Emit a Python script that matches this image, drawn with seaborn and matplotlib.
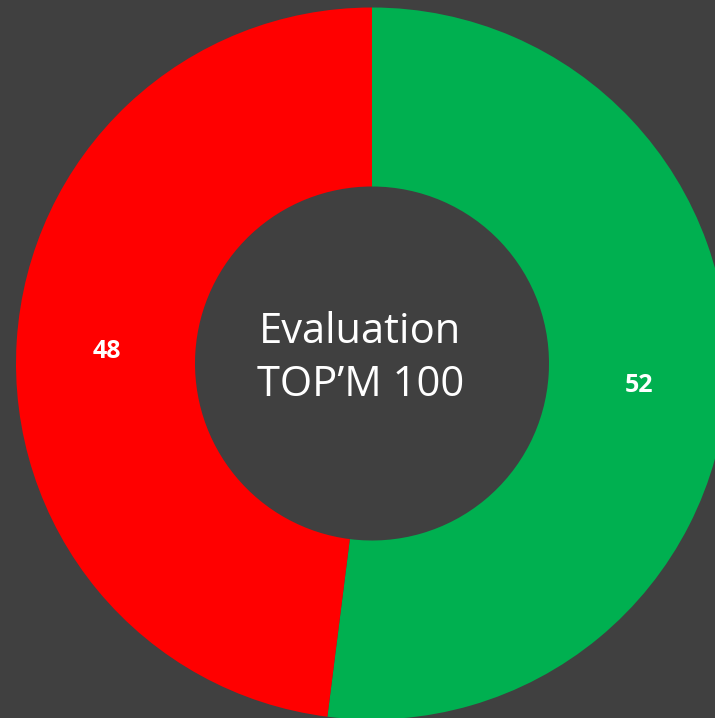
import matplotlib
matplotlib.use("Agg")
import matplotlib.pyplot as plt
import seaborn as sns

categories = ["Positive", "Negative"]
values = [52, 48]
colors = ["#00B050", "#FF0000"]
center_lines = ["Evaluation", "TOP\u2019M 100"]

sns.set_theme(style="white")
plt.rcParams['font.family'] = ['Open Sans', 'DejaVu Sans']

bg = "#404040"
fig = plt.figure(figsize=(7.15, 7.18), dpi=100, facecolor=bg)
ax = fig.add_axes([0, 0, 1, 1])
ax.set_facecolor(bg)

cx, cy, R = 372, 354.5, 356
wedges, texts = ax.pie(values, colors=colors, startangle=90, counterclock=False,
                       center=(cx, cy), radius=R,
                       wedgeprops=dict(width=R - 177, linewidth=0),
                       labels=[str(v) for v in values], labeldistance=0.75,
                       textprops=dict(color="white", fontsize=18, fontweight="bold",
                                      ha="center", va="center"))
for t in texts:
    x, y = t.get_position()
    t.set_position((x + 1, y - 5))
ax.set_xlim(0, 715)
ax.set_ylim(0, 718)
ax.set_aspect("equal")
ax.axis("off")

ax.text(360, 386, center_lines[0], color="white", fontsize=30, ha="center", va="center")
ax.text(361, 333, center_lines[1], color="white", fontsize=30, ha="center", va="center")

fig.savefig("out.png", dpi=100, facecolor=bg)
